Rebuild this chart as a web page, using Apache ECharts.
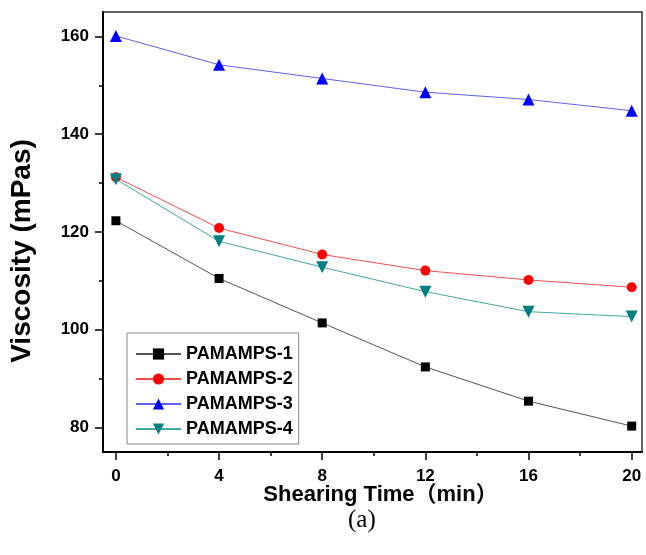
<!DOCTYPE html>
<html>
<head>
<meta charset="utf-8">
<script src="https://cdn.jsdelivr.net/npm/echarts@6/dist/echarts.min.js"></script>
<style>
  html, body { margin: 0; padding: 0; background: #fff; }
  #chart { width: 646px; height: 555px; }
</style>
</head>
<body>
<div id="chart"></div>
<script>
// shearing time (min)
var times = [0, 4, 8, 12, 16, 20];
var seriesNames = ['PAMAMPS-1', 'PAMAMPS-2', 'PAMAMPS-3', 'PAMAMPS-4'];
// viscosity (mPas)
var pamamps1 = [122.3, 110.5, 101.4, 92.4, 85.4, 80.3];
var pamamps2 = [131.2, 120.8, 115.4, 112.1, 110.2, 108.7];
var pamamps3 = [160.1, 154.2, 151.4, 148.6, 147.1, 144.8];
var pamamps4 = [130.8, 118.1, 112.8, 107.8, 103.7, 102.7];
var xMajor = [0, 4, 8, 12, 16, 20];
var xMinor = [2, 6, 10, 14, 18];
var yMajor = [80, 100, 120, 140, 160];
var yMinor = [90, 110, 130, 150];

var font = '"Liberation Sans", Arial, "Noto Sans CJK SC", sans-serif';

function pairs(vals) {
  return times.map(function (t, i) { return [t, vals[i]]; });
}

var chart = echarts.init(document.getElementById('chart'));

var styles = [
  {line: '#555555', fill: '#000000', symbol: 'rect', size: 9, rotate: 0},
  {line: '#f05050', fill: '#ff0000', symbol: 'circle', size: 10, rotate: 0},
  {line: '#6060ee', fill: '#0000ff', symbol: 'triangle', size: 12, rotate: 0},
  {line: '#40a8a0', fill: '#008080', symbol: 'triangle', size: 12, rotate: 180}
];
var allData = [pamamps1, pamamps2, pamamps3, pamamps4];

var series = allData.map(function (vals, i) {
  var s = styles[i];
  return {
    name: seriesNames[i],
    type: 'line',
    data: pairs(vals),
    symbol: s.symbol,
    symbolSize: s.size,
    symbolRotate: s.rotate,
    showAllSymbol: true,
    lineStyle: {color: s.line, width: 1},
    itemStyle: {color: s.fill, borderWidth: 0},
    animation: false
  };
});

chart.setOption({
  backgroundColor: '#fff',
  animation: false,
  grid: {
    left: 103, right: 4, top: 12, bottom: 103,
    show: true, borderColor: '#333', borderWidth: 1.5
  },
  title: {
    text: '(a)',
    left: 343,
    top: 503,
    textStyle: {fontFamily: '"Liberation Serif", "Times New Roman", serif', fontSize: 25, fontWeight: 'normal', color: '#000'}
  },
  legend: {
    orient: 'vertical',
    left: 127,
    top: 333,
    padding: [12, 6, 6, 8],
    itemGap: 7,
    itemWidth: 45,
    itemHeight: 14,
    borderColor: '#888',
    borderWidth: 1,
    data: seriesNames,
    textStyle: {fontFamily: font, fontSize: 18, fontWeight: 'bold', color: '#000', lineHeight: 17}
  },
  xAxis: [{
    type: 'value',
    min: -0.5, max: 20.4,
    name: 'Shearing Time（min）',
    nameLocation: 'middle',
    nameGap: 32,
    nameMoveOverlap: false,
    nameTextStyle: {fontFamily: font, fontSize: 22, fontWeight: 'bold', color: '#000', padding: [0, 0, 0, 16]},
    axisLine: {show: true, onZero: false, lineStyle: {color: '#000', width: 2}},
    axisTick: {show: true, inside: false, length: 8, customValues: xMajor, lineStyle: {color: '#000', width: 1.5}},
    axisLabel: {customValues: xMajor, margin: 16, fontFamily: font, fontSize: 17, fontWeight: 'bold', color: '#000'},
    splitLine: {show: false}
  }, {
    type: 'value',
    min: -0.5, max: 20.4,
    position: 'bottom',
    axisLine: {show: false, onZero: false},
    axisTick: {show: true, inside: false, length: 4, customValues: xMinor, lineStyle: {color: '#000', width: 1.5}},
    axisLabel: {show: false},
    splitLine: {show: false}
  }],
  yAxis: [{
    type: 'value',
    min: 75, max: 165,
    axisLine: {show: true, onZero: false, lineStyle: {color: '#000', width: 2}},
    axisTick: {show: true, inside: false, length: 8, customValues: yMajor, lineStyle: {color: '#000', width: 1.5}},
    axisLabel: {customValues: yMajor, margin: 14, fontFamily: font, fontSize: 17, fontWeight: 'bold', color: '#000'},
    splitLine: {show: false}
  }, {
    type: 'value',
    min: 75, max: 165,
    position: 'left',
    axisLine: {show: false, onZero: false},
    axisTick: {show: true, inside: false, length: 4, customValues: yMinor, lineStyle: {color: '#000', width: 1.5}},
    axisLabel: {show: false},
    splitLine: {show: false}
  }],
  graphic: [{
    type: 'text',
    x: 22, y: 251,
    rotation: Math.PI / 2,
    style: {
      text: 'Viscosity (mPas)',
      fontFamily: font, fontSize: 28, fontWeight: 'bold', fill: '#000',
      textAlign: 'center', textVerticalAlign: 'middle'
    }
  }],
  series: series
});
</script>
</body>
</html>
